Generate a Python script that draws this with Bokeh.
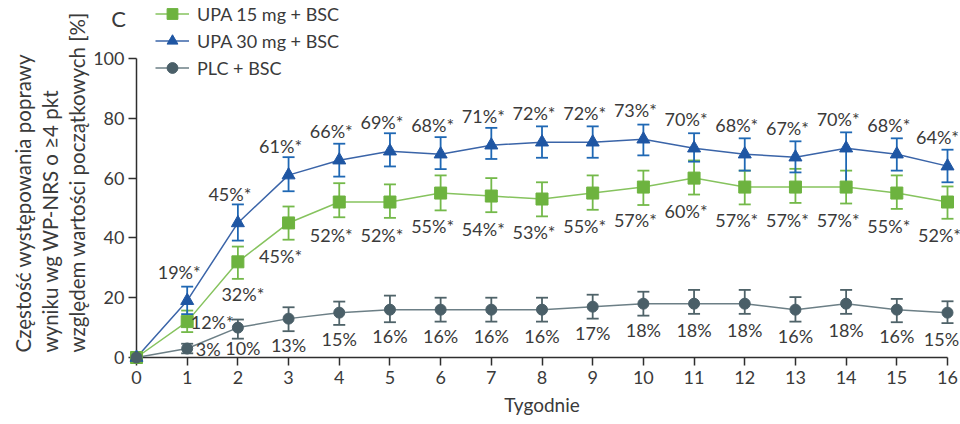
import math

from bokeh.plotting import figure
from bokeh.models import ColumnDataSource, Range1d, FixedTicker, Legend, LegendItem
from bokeh.core.properties import value
from bokeh.embed import file_html
from bokeh.resources import INLINE

# Weeks of treatment
weeks = list(range(17))

# Share of patients with >=4-point WP-NRS improvement [%]
upa15 = [0, 12, 32, 45, 52, 52, 55, 54, 53, 55, 57, 60, 57, 57, 57, 55, 52]
upa30 = [0, 19, 45, 61, 66, 69, 68, 71, 72, 72, 73, 70, 68, 67, 70, 68, 64]
plc = [0, 3, 10, 13, 15, 16, 16, 16, 16, 17, 18, 18, 18, 16, 18, 16, 15]

# Confidence interval bounds [%]
upa15_lo = [0, 8.5, 26.3, 39.4, 46.9, 46.7, 49.2, 48.6, 47.2, 49.4, 51.0, 54.5, 51.2, 51.7, 51.5, 49.7, 46.4]
upa15_hi = [0, 15.7, 37.1, 50.5, 58.3, 57.9, 60.9, 60.0, 58.6, 60.9, 62.5, 65.9, 62.5, 63.1, 62.5, 60.9, 57.2]
upa30_lo = [0, 14.5, 39.1, 55.6, 60.5, 63.9, 63.0, 66.4, 66.8, 66.8, 67.6, 65.5, 62.5, 61.9, 56.5, 62.5, 58.6]
upa30_hi = [0, 23.7, 51.2, 67.0, 71.5, 75.0, 73.7, 76.8, 77.3, 77.3, 77.9, 75.0, 73.3, 72.3, 75.3, 73.3, 69.5]
plc_lo = [0, 1.4, 6.3, 8.8, 10.9, 11.8, 12.0, 12.0, 12.0, 13.0, 14.0, 14.6, 14.6, 12.0, 14.6, 11.8, 11.5]
plc_hi = [0, 4.6, 12.7, 16.8, 18.7, 20.7, 20.0, 20.0, 20.0, 21.0, 22.0, 22.6, 22.6, 20.2, 22.6, 19.6, 18.8]

series_names = ["UPA 15 mg + BSC", "UPA 30 mg + BSC", "PLC + BSC"]
y_ticks = [0, 20, 40, 60, 80, 100]
y_title = ["Częstość występowania poprawy",
           "wyniku wg WP-NRS o ≥4 pkt",
           "względem wartości początkowych [%]"]

FONT = "Lato"
TEXT = "#3a3a3a"
AXIS = "#2e2e2e"

# Plot geometry in canvas pixels: the axes span 0..16 and 0..100, the frame
# reaches up to the top edge so the legend above the axis can sit inside it.
W, H = 960, 424
AX_L, AX_R, AX_T, AX_B = 136, 947, 58, 357
X_MAX, Y_MAX = 16, 100
Y_TOP = Y_MAX * AX_B / (AX_B - AX_T)


def px_x(px):
    """Canvas x pixel -> data x."""
    return (px - AX_L) / (AX_R - AX_L) * X_MAX


def px_y(py):
    """Canvas y pixel -> data y."""
    return (AX_B - py) / (AX_B - AX_T) * Y_MAX


# Value-label placement (screen px, y down) relative to each point, weeks 1..16
u15_dx = [25, 5] + [-8] * 14
u15_dy = [0, 32] + [33] * 14
u30_dx = [-8] * 15 + [-10]
u30_dy = [-29] * 16
plc_dx = [21, 5] + [0] * 13 + [-6]
plc_dy = [0, 20] + [26] * 14

p = figure(width=W, height=H, output_backend="svg", toolbar_location=None,
           x_range=Range1d(0, X_MAX), y_range=Range1d(0, Y_TOP),
           min_border_left=AX_L, min_border_right=W - AX_R,
           min_border_top=0, min_border_bottom=H - AX_B)
p.outline_line_color = None
p.grid.visible = False

for ax in (p.xaxis[0], p.yaxis[0]):
    ax.axis_line_color = AXIS
    ax.axis_line_width = 1.5
    ax.major_tick_line_color = AXIS
    ax.major_tick_line_width = 1.5
    ax.major_tick_out = 8
    ax.major_tick_in = 0
    ax.minor_tick_line_color = None
    ax.major_label_text_font = FONT
    ax.major_label_text_font_size = "18px"
    ax.major_label_text_color = TEXT
    ax.axis_label_text_font = FONT
    ax.axis_label_text_font_size = "19px"
    ax.axis_label_text_font_style = "normal"
    ax.axis_label_text_color = TEXT

p.xaxis.ticker = FixedTicker(ticks=weeks)
p.yaxis.ticker = FixedTicker(ticks=y_ticks)
p.yaxis.bounds = (0, Y_MAX)
p.xaxis.major_label_standoff = 5
p.yaxis.major_label_standoff = 4
p.xaxis.axis_label = "Tygodnie"
p.xaxis.axis_label_standoff = 6

# y-axis title: three rotated lines, left-aligned at the bottom
title_x = [22, 49, 76]
p.text(x=[px_x(v) for v in title_x], y=[px_y(352)] * 3, text=y_title,
       angle=math.pi / 2, text_align="left", text_baseline="middle",
       text_font=value(FONT), text_font_size="20.5px",
       text_color=TEXT, level="overlay")

styles = [
    dict(y=upa15, lo=upa15_lo, hi=upa15_hi, marker="square", size=12,
         fill="#6db33f", line="#86c35e", bar="#74b94a", star=True,
         dx=u15_dx, dy=u15_dy),
    dict(y=upa30, lo=upa30_lo, hi=upa30_hi, marker="triangle", size=13,
         fill="#1f56a3", line="#3a64a8", bar="#1f68b4", star=True,
         dx=u30_dx, dy=u30_dy),
    dict(y=plc, lo=plc_lo, hi=plc_hi, marker="circle", size=11,
         fill="#4a5f68", line="#6c7f86", bar="#4f6369", star=False,
         dx=plc_dx, dy=plc_dy),
]

legend_items = []
for name, st in zip(series_names, styles):
    src = ColumnDataSource(dict(x=weeks, y=st["y"]))
    err = ColumnDataSource(dict(x=weeks[1:], lo=st["lo"][1:], hi=st["hi"][1:]))

    ln = p.line("x", "y", source=src, line_color=st["line"], line_width=1.5,
                level="annotation")
    # error bars: stem plus caps
    p.segment(x0="x", y0="lo", x1="x", y1="hi", source=err,
              line_color=st["bar"], line_width=1.8, level="annotation")
    for end in ("lo", "hi"):
        p.scatter(x="x", y=end, source=err, marker="dash", size=12,
                  line_color=st["bar"], line_width=1.8, level="annotation")
    sc = p.scatter("x", "y", source=src, marker=st["marker"], size=st["size"],
                   fill_color=st["fill"], line_color=st["fill"], level="overlay")
    legend_items.append(LegendItem(label=name, renderers=[ln, sc]))

    suffix = "%*" if st["star"] else "%"
    lab_src = ColumnDataSource(dict(
        x=weeks[1:], y=st["y"][1:],
        text=[f"{v}{suffix}" for v in st["y"][1:]],
        dx=st["dx"], dy=st["dy"]))
    p.text(x="x", y="y", text="text", source=lab_src,
           x_offset="dx", y_offset="dy",
           text_align="center", text_baseline="middle",
           text_font=value(FONT), text_font_size="18px",
           text_color=TEXT, level="overlay")

# Legend in the top-left corner (location measured from the frame's bottom-left)
LEG_LEFT, LEG_TOP, LEG_ROW = 155, 0, 27
legend = Legend(items=legend_items,
                location=(LEG_LEFT - AX_L, AX_B - LEG_TOP - LEG_ROW * len(legend_items)),
                orientation="vertical", padding=0, margin=0, spacing=0,
                glyph_width=34, glyph_height=LEG_ROW, label_height=LEG_ROW,
                label_standoff=8, border_line_color=None,
                background_fill_alpha=0,
                label_text_font=FONT, label_text_font_size="18px",
                label_text_color=TEXT)
p.add_layout(legend)

# panel letter
p.text(x=[px_x(118)], y=[px_y(18)], text=["C"],
       text_align="center", text_baseline="middle",
       text_font=value(FONT), text_font_size="22px",
       text_color=TEXT, level="overlay")

open("out.html", "w").write(file_html(p, INLINE))
